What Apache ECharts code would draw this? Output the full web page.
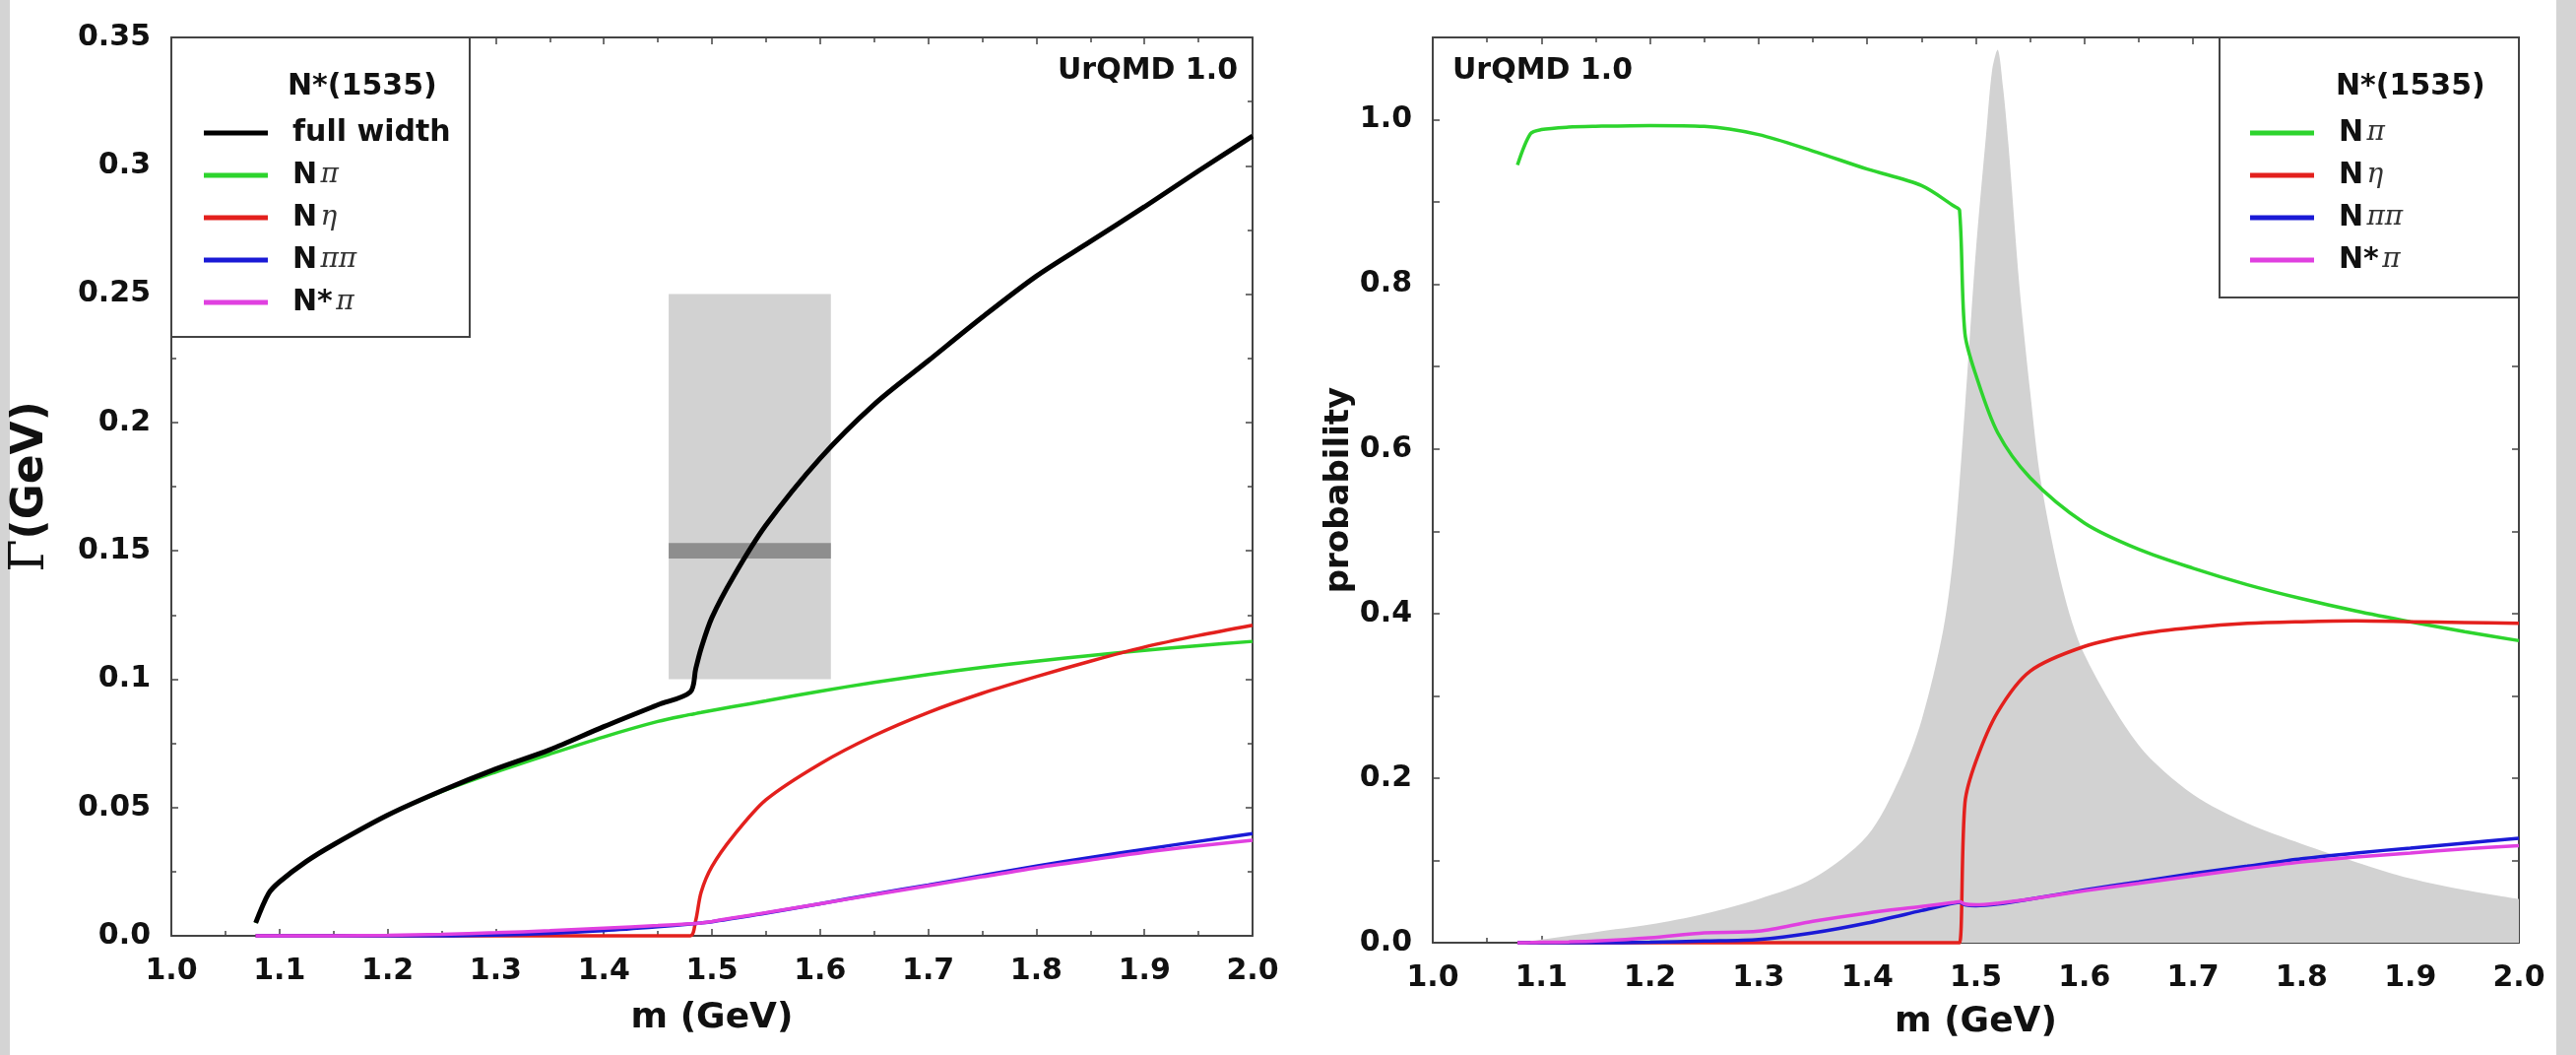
<!DOCTYPE html>
<html lang="en">
  <head>
    <meta charset="UTF-8" />
    <title>N*(1535) widths and branching</title>
    <script src="https://cdn.jsdelivr.net/npm/echarts@6/dist/echarts.min.js"></script>
    <style>
      html, body { margin: 0; padding: 0; background: #fff; }
      #main { width: 2616px; height: 1071px; }
    </style>
  </head>
  <body>
    <div id="main"></div>
    <script type="text/javascript">
      // mass grid (GeV) shared by the decay curves
      var massGrid = [1.078, 1.09, 1.1, 1.125, 1.15, 1.2, 1.25, 1.3, 1.35, 1.4, 1.45, 1.48, 1.485,
        1.49, 1.5, 1.52, 1.55, 1.6, 1.65, 1.7, 1.75, 1.8, 1.85, 1.9, 1.95, 2.0];

      // left panel: partial widths Gamma (GeV)
      var fullWidth = [0.005, 0.0165, 0.021, 0.029, 0.0355, 0.047, 0.0565, 0.065, 0.0725, 0.0815, 0.09, 0.095, 0.104,
        0.112, 0.124, 0.14, 0.16, 0.186, 0.207, 0.224, 0.241, 0.257, 0.2705, 0.284, 0.298, 0.3116];
      var widthNpi = [0.005, 0.0165, 0.021, 0.029, 0.0355, 0.047, 0.0562, 0.0638, 0.0708, 0.0775, 0.0835, 0.0862, 0.0866,
        0.087, 0.0878, 0.0893, 0.0915, 0.0953, 0.0987, 0.1018, 0.1046, 0.107, 0.1092, 0.1112, 0.113, 0.1147];
      var widthNeta = [0, 0, 0, 0, 0, 0, 0, 0, 0, 0, 0, 0, 0.006,
        0.017, 0.027, 0.039, 0.053, 0.067, 0.078, 0.087, 0.0945, 0.101, 0.107, 0.1125, 0.117, 0.121];
      var widthNpipi = [0, 0, 0, 0, 0, 0, 0, 0.0003, 0.001, 0.002, 0.0035, 0.0046, 0.0048,
        0.005, 0.0055, 0.0068, 0.0088, 0.0125, 0.0162, 0.0198, 0.0235, 0.0272, 0.0305, 0.0337, 0.0368, 0.0398];
      var widthNstarPi = [0, 0, 0, 0, 0, 0.0002, 0.0006, 0.0012, 0.002, 0.003, 0.004, 0.0047, 0.0048,
        0.005, 0.0056, 0.007, 0.009, 0.0125, 0.016, 0.0195, 0.023, 0.0265, 0.0295, 0.0325, 0.035, 0.0372];

      // right panel: branching probabilities
      var probNpi = [0.945, 0.983, 0.988, 0.991, 0.992, 0.993, 0.992, 0.982, 0.962, 0.94, 0.92, 0.895, 0.89,
        0.74, 0.69, 0.62, 0.565, 0.51, 0.478, 0.455, 0.435, 0.418, 0.403, 0.39, 0.378, 0.367];
      var probNeta = [0, 0, 0, 0, 0, 0, 0, 0, 0, 0, 0, 0, 0,
        0.17, 0.22, 0.28, 0.33, 0.36, 0.375, 0.383, 0.388, 0.39, 0.391, 0.39, 0.389, 0.388];
      var probNpipi = [0, 0, 0, 0, 0, 0.0005, 0.002, 0.004, 0.012, 0.024, 0.039, 0.048, 0.049,
        0.046, 0.045, 0.047, 0.053, 0.064, 0.074, 0.084, 0.093, 0.102, 0.109, 0.115, 0.121, 0.127];
      var probNstarPi = [0, 0.0002, 0.0005, 0.001, 0.002, 0.006, 0.012, 0.014, 0.026, 0.036, 0.044, 0.049, 0.05,
        0.047, 0.046, 0.048, 0.053, 0.063, 0.072, 0.081, 0.09, 0.098, 0.104, 0.109, 0.114, 0.118];

      // spectral function (grey shape, right panel)
      var specMass = [1.078, 1.1, 1.15, 1.2, 1.25, 1.3, 1.35, 1.4, 1.43, 1.45, 1.47, 1.48, 1.49, 1.5, 1.51, 1.515,
        1.52, 1.525, 1.53, 1.54, 1.55, 1.56, 1.58, 1.6, 1.65, 1.7, 1.75, 1.8, 1.85, 1.9, 1.95, 2.0];
      var specValue = [0, 0.004, 0.013, 0.022, 0.035, 0.053, 0.078, 0.13, 0.2, 0.27, 0.38, 0.48, 0.65, 0.84, 0.99, 1.06,
        1.085, 1.04, 0.97, 0.8, 0.67, 0.56, 0.43, 0.35, 0.24, 0.18, 0.145, 0.12, 0.098, 0.078, 0.064, 0.053];

      // PDG band in left panel
      var bandMass = [1.46, 1.61];
      var bandWidth = [0.1, 0.25];
      var bandCentral = [0.147, 0.153];

      var xTicks = { min: 1.0, max: 2.0, interval: 0.1 };
      var sans = "DejaVu Sans";
      var serif = "DejaVu Serif";
      var axisColor = "#444";

      function pairs(xs, ys) {
        return xs.map(function (x, i) { return [x, ys[i]]; });
      }

      function xAxisFor(grid, pos, gap) {
        var shown = pos === "bottom";
        return {
          type: "value", gridIndex: grid, position: pos,
          min: xTicks.min, max: xTicks.max, interval: xTicks.interval,
          name: shown ? "m (GeV)" : "", nameLocation: "middle", nameGap: gap,
          nameTextStyle: { fontFamily: sans, fontWeight: "bold", fontSize: 36, color: "#111" },
          axisLine: { show: true, onZero: false, lineStyle: { color: axisColor, width: 2 } },
          axisTick: { show: true, inside: true, length: 7, lineStyle: { color: axisColor, width: 1.5 } },
          minorTick: { show: true, splitNumber: 2, length: 5, lineStyle: { color: axisColor, width: 1.5 } },
          splitLine: { show: false },
          axisLabel: {
            show: shown, margin: 21, fontFamily: sans, fontWeight: "bold", fontSize: 30, color: "#111",
            formatter: function (v) { return v.toFixed(1); }
          }
        };
      }

      function yAxisFor(grid, pos, opts) {
        var shown = pos === "left";
        return {
          type: "value", gridIndex: grid, position: pos,
          min: 0, max: opts.max, interval: opts.interval,
          name: shown ? opts.name : "", nameLocation: "middle", nameGap: opts.gap, nameRotate: 90,
          nameTextStyle: {
            fontFamily: sans, fontWeight: "bold", fontSize: 34, color: "#111",
            rich: {
              g: { fontFamily: serif, fontWeight: "normal", fontSize: 48, color: "#111" },
              t: { fontFamily: sans, fontWeight: "bold", fontSize: 44, color: "#111" }
            }
          },
          axisLine: { show: true, onZero: false, lineStyle: { color: axisColor, width: 2 } },
          axisTick: { show: true, inside: true, length: 7, lineStyle: { color: axisColor, width: 1.5 } },
          minorTick: { show: opts.minor, splitNumber: 2, length: 5, lineStyle: { color: axisColor, width: 1.5 } },
          splitLine: { show: false },
          axisLabel: {
            show: shown, margin: 21, fontFamily: sans, fontWeight: "bold", fontSize: 30, color: "#111",
            formatter: opts.fmt
          }
        };
      }

      var leftYFmt = function (v) {
        return v === 0 ? "0.0" : String(Math.round(v * 1000) / 1000);
      };
      var rightYFmt = function (v) {
        var k = Math.round(v * 10);
        return k % 2 === 0 && k <= 10 ? (k / 10).toFixed(1) : "";
      };

      var legendText = {
        "full width": "{sp| }{n|full width}",
        "N π": "{sp| }{n|N} {g|π}",
        "N η": "{sp| }{n|N} {g|η}",
        "N ππ": "{sp| }{n|N} {g|ππ}",
        "N* π": "{sp| }{n|N*} {g|π}"
      };
      function legendFor(left, names) {
        return {
          orient: "vertical", left: left, top: 115, z: 7,
          itemWidth: 65, itemHeight: 5, itemGap: 13, icon: "rect",
          selectedMode: false,
          data: names,
          formatter: function (name) { return legendText[name]; },
          textStyle: {
            lineHeight: 30,
            rich: {
              sp: { width: 20 },
              n: { fontFamily: sans, fontWeight: "bold", fontSize: 30, color: "#111", lineHeight: 30 },
              g: { fontFamily: serif, fontStyle: "italic", fontSize: 28, color: "#333", lineHeight: 30 }
            }
          }
        };
      }

      function curve(name, color, xi, ys, xs, width, z) {
        return {
          name: name, type: "line", xAxisIndex: xi, yAxisIndex: xi,
          data: pairs(xs, ys), showSymbol: false, clip: false,
          smooth: 0.3, z: z || 2,
          lineStyle: { color: color, width: width }, itemStyle: { color: color }
        };
      }

      var colors = { full: "#000000", npi: "#2dd42d", neta: "#e3201d", npipi: "#1a1ad6", nstar: "#e040e0" };

      var option = {
        backgroundColor: "#ffffff",
        animation: false,
        grid: [
          { left: 174, top: 38, width: 1098, height: 912 },
          { left: 1455, top: 38, width: 1103, height: 919 }
        ],
        xAxis: [xAxisFor(0, "bottom", 66), xAxisFor(0, "top", 0), xAxisFor(1, "bottom", 63), xAxisFor(1, "top", 0)],
        yAxis: [
          yAxisFor(0, "left", { max: 0.35, interval: 0.05, minor: true, fmt: leftYFmt, gap: 118, name: "{g|Γ}{t|(GeV)}" }),
          yAxisFor(0, "right", { max: 0.35, interval: 0.05, minor: true, fmt: leftYFmt, gap: 0, name: "" }),
          yAxisFor(1, "left", { max: 1.1, interval: 0.1, minor: false, fmt: rightYFmt, gap: 78, name: "probability" }),
          yAxisFor(1, "right", { max: 1.1, interval: 0.1, minor: false, fmt: rightYFmt, gap: 0, name: "" })
        ],
        legend: [
          legendFor(202, ["full width", "N π", "N η", "N ππ", "N* π"]),
          legendFor(2280, ["N π", "N η", "N ππ", "N* π"])
        ],
        graphic: [
          { type: "rect", z: 0, silent: true, shape: { x: 0, y: 0, width: 10, height: 1071 }, style: { fill: "#d4d4d4" } },
          { type: "rect", z: 0, silent: true, shape: { x: 2596, y: 0, width: 20, height: 1071 }, style: { fill: "#d4d4d4" } },
          { type: "rect", z: 6, silent: true, shape: { x: 174, y: 38, width: 303, height: 304 },
            style: { fill: "#ffffff", stroke: axisColor, lineWidth: 2 } },
          { type: "rect", z: 6, silent: true, shape: { x: 2254, y: 38, width: 304, height: 264 },
            style: { fill: "#ffffff", stroke: axisColor, lineWidth: 2 } },
          { type: "text", z: 7, silent: true,
            style: { x: 292, y: 88, text: "N*(1535)", font: "bold 30px 'DejaVu Sans'", fill: "#111", verticalAlign: "middle" } },
          { type: "text", z: 7, silent: true,
            style: { x: 2372, y: 88, text: "N*(1535)", font: "bold 30px 'DejaVu Sans'", fill: "#111", verticalAlign: "middle" } },
          { type: "text", z: 7, silent: true,
            style: { x: 1257, y: 72, text: "UrQMD 1.0", font: "bold 30px 'DejaVu Sans'", fill: "#111", align: "right", verticalAlign: "middle" } },
          { type: "text", z: 7, silent: true,
            style: { x: 1475, y: 72, text: "UrQMD 1.0", font: "bold 30px 'DejaVu Sans'", fill: "#111", verticalAlign: "middle" } }
        ],
        series: [
          {
            name: "band", type: "line", xAxisIndex: 0, yAxisIndex: 0, z: 1,
            data: [[bandMass[0], bandWidth[0]]], showSymbol: false, lineStyle: { opacity: 0 },
            markArea: {
              silent: true,
              itemStyle: { color: "#d2d2d2" },
              data: [
                [{ coord: [bandMass[0], bandWidth[0]] }, { coord: [bandMass[1], bandWidth[1]] }],
                [{ coord: [bandMass[0], bandCentral[0]], itemStyle: { color: "#8e8e8e" } },
                  { coord: [bandMass[1], bandCentral[1]] }]
              ]
            }
          },
          curve("N π", colors.npi, 0, widthNpi, massGrid, 3.5),
          curve("N η", colors.neta, 0, widthNeta, massGrid, 3.5),
          curve("N ππ", colors.npipi, 0, widthNpipi, massGrid, 3.5),
          curve("N* π", colors.nstar, 0, widthNstarPi, massGrid, 3.5),
          curve("full width", colors.full, 0, fullWidth, massGrid, 5, 3),
          {
            name: "spectral", type: "line", xAxisIndex: 2, yAxisIndex: 2, z: 1,
            data: pairs(specMass, specValue), showSymbol: false, clip: true,
            smooth: 0.3,
            lineStyle: { width: 0, color: "#d2d2d2" }, areaStyle: { color: "#d2d2d2", opacity: 1 }
          },
          curve("N π", colors.npi, 2, probNpi, massGrid, 3.5),
          curve("N η", colors.neta, 2, probNeta, massGrid, 3.5),
          curve("N ππ", colors.npipi, 2, probNpipi, massGrid, 3.5),
          curve("N* π", colors.nstar, 2, probNstarPi, massGrid, 3.5)
        ]
      };

      var myChart = echarts.init(document.getElementById("main"), null, { renderer: "canvas" });
      myChart.setOption(option);
    </script>
  </body>
</html>
